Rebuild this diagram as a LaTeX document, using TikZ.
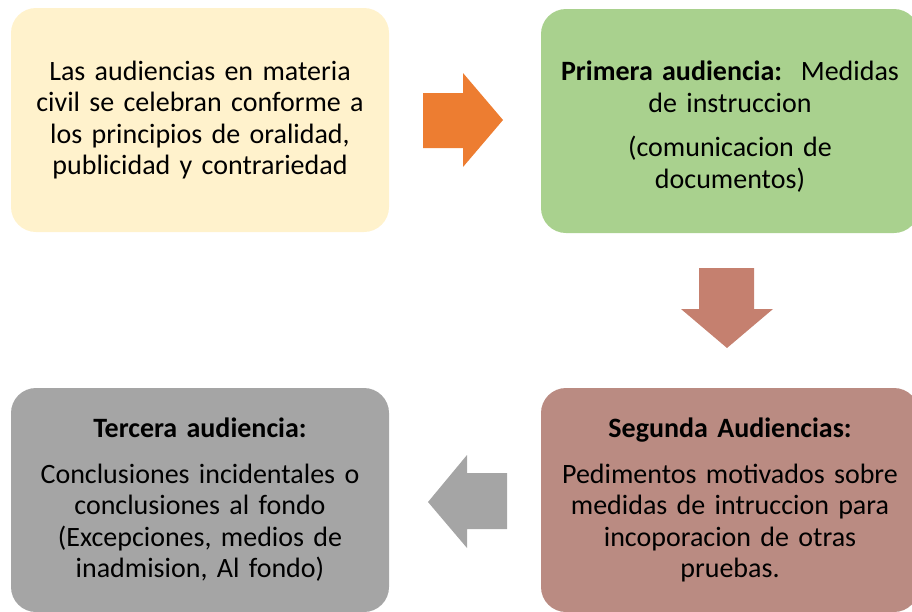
\documentclass[tikz,border=0pt]{standalone}
\usepackage{fontspec}
\setmainfont[WordSpace=0.8]{Carlito}
\usepackage{tikz}
\usetikzlibrary{positioning}

\definecolor{boxyellow}{HTML}{FFF2CC}
\definecolor{boxgreen}{HTML}{A9D18E}
\definecolor{boxrose}{HTML}{BA8B82}
\definecolor{boxgray}{HTML}{A5A5A5}
\definecolor{arroworange}{HTML}{ED7D31}
\definecolor{arrowrose}{HTML}{C5806F}

\tikzset{
  stage/.style={rectangle, rounded corners=25pt, minimum width=378pt, minimum height=224pt,
    text width=370pt, align=center, text=black, inner sep=0pt,
    font=\fontsize{28}{31.5}\selectfont}
}

\begin{document}
\begin{tikzpicture}[x=1pt, y=-1pt]
    \useasboundingbox (0,0) rectangle (912,611);

    \node[stage, fill=boxyellow] (intro) at (200,120) {Las audiencias en materia\\ civil se celebran conforme a\\ los principios de oralidad,\\ publicidad y contrariedad};
    \node[stage, fill=boxgreen ] (aud1)  at (730,121) {\rule{0pt}{31pt}\textbf{Primera audiencia:}\ \ Medidas\\ de instruccion\\[13pt] (comunicacion de\\ documentos)};
    \node[stage, fill=boxrose  ] (aud2)  at (730,500) {\textbf{Segunda Audiencias:}\\[14pt] Pedimentos motivados sobre\\ medidas de intruccion para\\ incoporacion de otras\\ pruebas.};
    \node[stage, fill=boxgray  ] (aud3)  at (200,500) {\textbf{Tercera audiencia:}\\[14pt] Conclusiones incidentales o\\ conclusiones al fondo\\ (Excepciones, medios de\\ inadmision, Al fondo)};

    % block arrows between the stages
    \fill[arroworange] (423,93) -- (463,93) -- (463,73) -- (503,120) -- (463,167) -- (463,148) -- (423,148) -- cycle;
    \fill[arrowrose] (699,268) -- (754,268) -- (754,309) -- (773,309) -- (727,348) -- (681,309) -- (699,309) -- cycle;
    \fill[boxgray] (507,473) -- (467,473) -- (467,455) -- (428,502) -- (467,548) -- (467,529) -- (507,529) -- cycle;
\end{tikzpicture}
\end{document}
